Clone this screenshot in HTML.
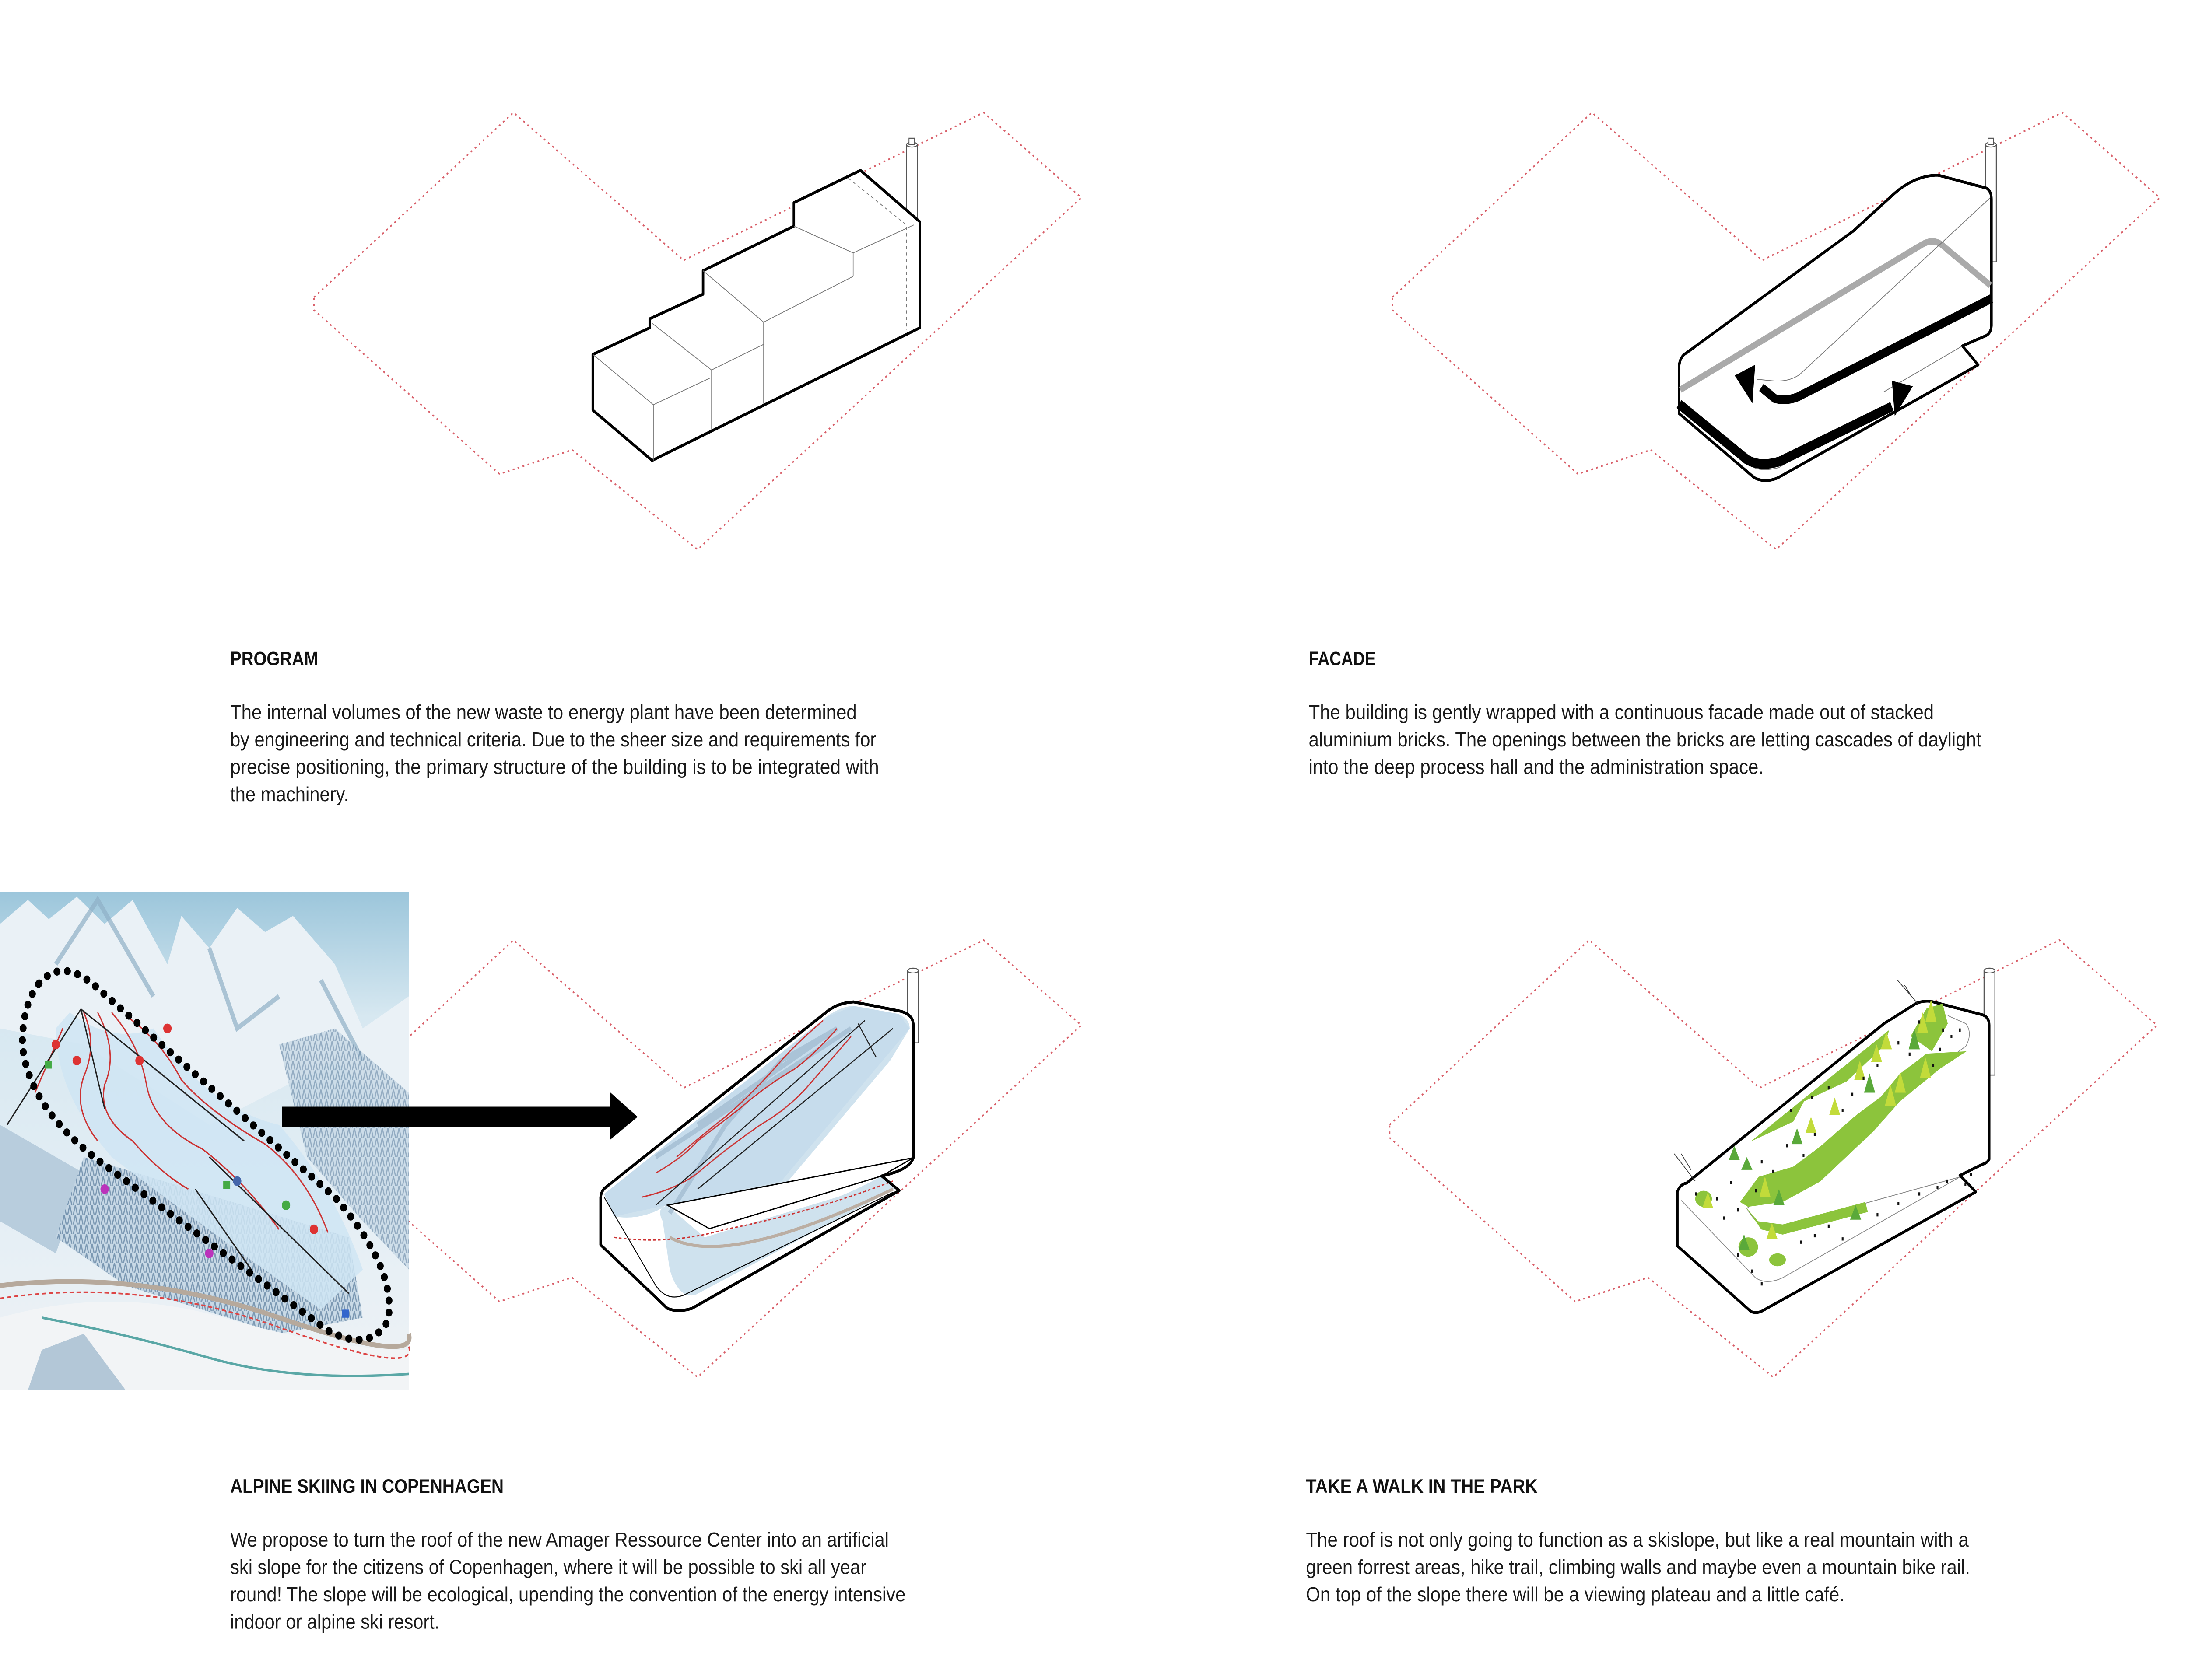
<!DOCTYPE html>
<html><head><meta charset="utf-8"><style>
html,body{margin:0;padding:0;background:#fff;overflow:hidden;width:100vw;height:100vh;}
svg{display:block;width:100vw;height:100vh;}
.t{font-family:"Liberation Sans Narrow","Liberation Sans",sans-serif;font-size:12.6px;fill:#1a1a1a;}
.h{font-family:"Liberation Sans Narrow","Liberation Sans",sans-serif;font-size:12px;font-weight:bold;fill:#111;}
.site{fill:none;stroke:#d9606a;stroke-width:1;stroke-dasharray:1.3 2.4;}
.bk{fill:#fff;stroke:#000;stroke-width:1.8;stroke-linejoin:round;}
.th{fill:none;stroke:#777;stroke-width:0.5;}
</style></head><body>
<svg viewBox="0 0 1568.2 1045.5" preserveAspectRatio="none" xmlns="http://www.w3.org/2000/svg">
<defs>
<linearGradient id="sky" x1="0" y1="0" x2="0" y2="1">
<stop offset="0" stop-color="#9cc6db"/><stop offset="0.25" stop-color="#d7e8f1"/><stop offset="0.7" stop-color="#e6eff5"/><stop offset="1" stop-color="#eef2f5"/>
</linearGradient>
<pattern id="forest" width="4" height="6" patternUnits="userSpaceOnUse">
<rect width="4" height="6" fill="#c4d6e4"/><path d="M2 0 L0.5 6 M2 0 L3.5 6" stroke="#6f8eab" stroke-width="0.8"/>
</pattern>
</defs>

<g class="site">
<polygon points="225,185 368,70 490,162 705,70 775,123 500,342 410,280 358,295 225,193"/>
<polygon points="998,185 1141,70 1263,162 1478,70 1548,123 1273,342 1183,280 1131,295 998,193"/>
<polygon points="225,700 368,585 490,677 705,585 775,638 500,857 410,795 358,810 225,708"/>
<polygon points="996,700 1139,585 1261,677 1476,585 1546,638 1271,857 1181,795 1129,810 996,708"/>
</g>

<g>
<rect x="649.7" y="90" width="7.8" height="48" fill="#fff" stroke="#555" stroke-width="0.7"/>
<ellipse cx="653.6" cy="90" rx="3.9" ry="1.5" fill="#fff" stroke="#555" stroke-width="0.6"/>
<rect x="651.5" y="86" width="4" height="4" fill="#fff" stroke="#555" stroke-width="0.6"/>
<polygon class="bk" points="424.9,220.6 465.7,204 465.7,198.4 503.9,183.1 503.9,168.5 569,140.7 569,126.1 616.7,106 659.3,138 659.3,204 467.4,286.6 424.9,255.3"/>
<g class="th" stroke="#888" stroke-width="0.55">
<polyline points="424.9,220.6 468.3,251.9 509.1,235.2"/>
<line x1="468.3" y1="251.9" x2="468.3" y2="286.6"/>
<polyline points="467.4,201.2 510,230.3 547.3,214.3"/>
<line x1="510" y1="230.3" x2="510" y2="267.8"/>
<polyline points="503.9,168.5 547.3,200.5 611.5,172"/>
<line x1="547.3" y1="200.5" x2="547.3" y2="251.2"/>
<polyline points="569,140.7 611.5,157.4 654.9,140"/>
<line x1="611.5" y1="157.4" x2="611.5" y2="172"/>
<polyline points="608,110.9 649.7,140 649.7,205.3" stroke-dasharray="2 2"/>
</g>
</g>

<g>
<rect x="1423" y="90" width="7.8" height="73" fill="#fff" stroke="#555" stroke-width="0.7"/>
<ellipse cx="1426.9" cy="90" rx="3.9" ry="1.5" fill="#fff" stroke="#555" stroke-width="0.6"/>
<rect x="1424.9" y="86" width="4" height="4" fill="#fff" stroke="#555" stroke-width="0.6"/>
<path class="bk" d="M1203.4,257.3 L1203.4,228 Q1204,222 1208.6,219.7 L1328.4,143.7 L1356.2,121.6 Q1372,109 1389.1,109 L1423.9,117.1 Q1427.3,119 1427.3,124 L1427.3,202.7 Q1427,208 1422.1,209.4 L1406.5,215.3 L1417.8,227.1 L1274.6,297.2 Q1265,301 1257.2,297.2 Z"/>
<path d="M1204.3,242.6 L1378,152 Q1386,148 1392.6,153 L1426.5,177.6" fill="none" stroke="#aaa" stroke-width="4"/>
<path d="M1426.5,123 L1290,233 Q1282,238 1270,237 L1259,236" fill="none" stroke="#777" stroke-width="0.5"/>
<path d="M1406.5,215.3 L1350,244 M1205,250 L1255,290 Q1262,294 1275,291 L1330,262" fill="none" stroke="#777" stroke-width="0.5"/>
<path d="M1427.3,185.8 L1288.5,247 Q1280,250 1272,248 L1262.4,241.1" fill="none" stroke="#000" stroke-width="5.5"/>
<polygon points="1243.3,233.7 1258,227 1256,251" fill="#000"/>
<path d="M1203.4,251.4 L1252,286 Q1262,291 1276,287 L1356,253" fill="none" stroke="#000" stroke-width="6"/>
<polygon points="1371,240.4 1356,237 1358,259" fill="#000"/>
</g>

<g>
<rect x="0" y="555" width="293" height="310" fill="url(#sky)"/>
<polygon points="0,575 20,560 35,572 55,558 75,575 95,560 120,600 130,570 150,590 170,565 190,580 210,570 240,600 260,640 293,620 293,700 240,660 150,700 60,650 0,640" fill="#eaf1f6"/>
<path d="M40,600 L70,560 L110,620 M150,590 L170,640 L200,620 M230,610 L260,660" stroke="#8fafc6" stroke-width="3" fill="none" opacity="0.7"/>
<polygon points="0,700 0,760 40,780 60,730" fill="#b8cddd"/>
<polygon points="60,720 250,770 260,820 200,830 90,800 40,770" fill="url(#forest)" opacity="0.9"/>
<polygon points="200,650 240,640 293,680 293,790 260,760 220,720" fill="url(#forest)" opacity="0.7"/>
<path d="M0,820 Q80,800 160,820 T293,840 L293,865 L0,865 Z" fill="#f2f4f6"/>
<path d="M0,800 Q100,790 200,820 T293,830" fill="none" stroke="#b6a99c" stroke-width="3"/>
<path d="M0,808 Q100,795 200,826 T293,838" fill="none" stroke="#d44" stroke-width="1" stroke-dasharray="3 2"/>
<path d="M30,820 Q90,830 150,845 T293,855" fill="none" stroke="#5aa7a6" stroke-width="1.5"/>
<polygon points="30,840 60,830 90,865 20,865" fill="#b3c7d7"/>
<path d="M50,630 Q80,650 110,640 Q150,690 200,700 Q240,740 260,790 L230,815 Q140,760 80,720 Q40,680 40,640Z" fill="#cfe5f3" opacity="0.85"/>
<g fill="none" stroke="#c33" stroke-width="0.9">
<path d="M60,630 q10,20 0,40 q-8,20 10,40"/><path d="M70,630 q15,25 5,45 q-5,20 20,35 q20,20 40,30"/>
<path d="M80,630 q20,20 25,45 q5,25 40,40 q30,20 55,50"/><path d="M90,632 q25,15 40,40 q20,20 60,40 q30,20 45,55"/>
<path d="M45,640 q-10,20 -20,40"/>
</g>
<g stroke="#222" stroke-width="0.9"><line x1="58" y1="628" x2="5" y2="700"/><line x1="58" y1="628" x2="75" y2="690"/><line x1="58" y1="628" x2="175" y2="710"/><line x1="150" y1="720" x2="250" y2="805"/><line x1="140" y1="740" x2="180" y2="790"/></g>
<g>
<circle cx="40" cy="650" r="3" fill="#d33"/><circle cx="55" cy="660" r="3" fill="#d33"/><circle cx="100" cy="660" r="3" fill="#d33"/><circle cx="120" cy="640" r="3" fill="#d33"/><circle cx="170" cy="735" r="3" fill="#46a"/><circle cx="205" cy="750" r="3" fill="#4a4"/><circle cx="225" cy="765" r="3" fill="#d33"/><circle cx="150" cy="780" r="3" fill="#b3b"/><circle cx="75" cy="740" r="3" fill="#b3b"/><rect x="32" y="660" width="5" height="5" fill="#4a4"/><rect x="160" y="735" width="5" height="5" fill="#4a4"/><rect x="245" y="815" width="5" height="5" fill="#36c"/>
</g>
<path d="M28,612 Q45,595 70,615 L240,745 Q285,790 278,822 Q265,842 235,828 L75,725 Q20,690 16,650 Q16,625 28,612 Z" fill="none" stroke="#000" stroke-width="5" stroke-dasharray="0 7.5" stroke-linecap="round"/>
</g>
<rect x="202" y="688.7" width="238" height="12.6" fill="#000"/>
<polygon points="437,679.5 457,695 437,709.5" fill="#000"/>

<g>
<rect x="650.5" y="604" width="7.8" height="45" fill="#fff" stroke="#555" stroke-width="0.7"/>
<ellipse cx="654.4" cy="604" rx="3.9" ry="1.5" fill="#fff" stroke="#555" stroke-width="0.6"/>
<path class="bk" d="M430.5,774.7 L430.5,745 Q431,741 434,739 L591.6,630.3 Q600,624 611.8,623.5 L644.5,629.1 Q654.6,631 654.6,638 L654.6,720.5 Q652,728 631.9,731.8 L644.5,740.9 L496,814.2 Q486,817 478.3,814.2 Z"/>
<path d="M433,743 L592,633 Q603,626 612,626 L644,631 Q652,634 652,640 L638,660 L560,740 L478,750 Q470,752 475,760 L480,790 Q486,808 498,806 L641,740 L632,732 Q610,742 600,745 L505,770 L478,750 Q460,760 440,757 Z" fill="#cfe2ee"/>
<polygon points="433,743 592,633 612,626 644,631 652,640 560,735 478,750 440,757" fill="#c6dcec"/>
<path d="M480,755 L520,700 L560,660 L600,640 M470,720 L540,680 L610,640 M500,700 L600,640" stroke="#98b3c9" stroke-width="3" fill="none" opacity="0.6"/>
<g fill="none" stroke="#c33" stroke-width="0.8">
<path d="M470,730 q20,-10 30,-20 q15,-10 30,-20 q20,-15 40,-25 q15,-10 30,-25"/>
<path d="M460,745 q25,-5 40,-15 q20,-15 45,-30 q20,-10 35,-25 q15,-15 30,-30"/>
<path d="M485,720 q20,-15 35,-25 q20,-15 40,-35 q10,-10 30,-25"/>
<path d="M440,770 q40,5 80,-5 q60,-10 120,-30" stroke-dasharray="2 1.5"/>
</g>
<g stroke="#222" stroke-width="0.7"><line x1="470" y1="750" x2="620" y2="635"/><line x1="500" y1="740" x2="640" y2="640"/><line x1="615" y1="637" x2="628" y2="658"/></g>
<polygon points="478.3,750 508.5,764.6 631.9,731.8 654.6,720.5" fill="#fff" stroke="#000" stroke-width="0.8"/>
<path d="M480,770 Q520,790 640,740" fill="none" stroke="#bbaea3" stroke-width="2"/>
<path d="M430.5,774.7 L430.5,745 Q431,741 434,739 L591.6,630.3 Q600,624 611.8,623.5 L644.5,629.1 Q654.6,631 654.6,638 L654.6,720.5 Q652,728 631.9,731.8 L644.5,740.9 L496,814.2 Q486,817 478.3,814.2 Z" fill="none" stroke="#000" stroke-width="1.8" stroke-linejoin="round"/>
<path d="M433,745 L470,800 Q478,810 490,806 L640,742" fill="none" stroke="#000" stroke-width="0.6"/>
</g>

<g>
<rect x="1422" y="604" width="7.8" height="65" fill="#fff" stroke="#555" stroke-width="0.7"/>
<ellipse cx="1425.9" cy="604" rx="3.9" ry="1.5" fill="#fff" stroke="#555" stroke-width="0.6"/>
<path class="bk" d="M1202.2,775.3 L1202.2,741.7 Q1204,737 1208.9,736.2 L1350.3,637 L1373.2,624.5 Q1380,622 1386.5,623.7 L1420.9,631.5 Q1425.7,633 1425.7,638 L1425.7,721.4 Q1424,724 1420.9,724.5 L1404.7,731.5 L1416.1,741.7 L1264.3,815.2 Q1259,818 1254.7,816 Z"/>
<path d="M1205,747 L1258,795 Q1266,800 1278,795 L1404.7,732.4 M1404.7,732.4 L1274,764 Q1262,767 1252,752 L1409,651 Q1414,643 1409,637 L1396,632" fill="none" stroke="#888" stroke-width="0.5"/>
<g fill="#8cc43c">
<polygon points="1254.7,710.4 1354.1,640.9 1350.3,651 1323.5,673 1293,685.4 1285.3,698"/>
<polygon points="1247.1,748 1260.5,732.3 1285.3,726 1304.4,713.6 1329.2,694.8 1348.3,682.3 1361.7,668.2 1380.8,655.7 1409.5,654.2 1390.4,665.1 1361.7,685.4 1342.6,704.2 1304.4,735.4 1277.7,748 1252.8,751"/>
<polygon points="1369.4,644.8 1380.8,627.6 1392.3,624.5 1396,637 1384.6,654.2"/>
<polygon points="1251,751 1262.4,765.1 1277.7,768.3 1338.8,754.2 1336.9,748 1277.7,762 1260,760"/>
<ellipse cx="1221" cy="746" rx="6" ry="5"/><ellipse cx="1253" cy="776" rx="7" ry="6"/><ellipse cx="1274" cy="784" rx="6" ry="4"/>
</g>
<g fill="#c2db3a">
<polygon points="1224,742 1220,752 1228,752"/><polygon points="1298,695 1294,705 1302,705"/><polygon points="1315,683 1311,694 1319,694"/><polygon points="1333,660 1329,672 1337,672"/><polygon points="1345,650 1341,661 1349,661"/><polygon points="1352,642 1348,653 1356,653"/><polygon points="1378,630 1374,643 1382,643"/><polygon points="1384,622 1380,636 1388,636"/><polygon points="1355,675 1351,688 1359,688"/><polygon points="1362,667 1358,680 1366,680"/><polygon points="1380,658 1376,671 1384,671"/><polygon points="1265,732 1261,745 1269,745"/><polygon points="1270,761 1266,771 1274,771"/>
</g>
<g fill="#5aa93a">
<polygon points="1243,713 1239,722 1247,722"/><polygon points="1252,720 1248,728 1256,728"/><polygon points="1288,702 1284,712 1292,712"/><polygon points="1340,668 1336,680 1344,680"/><polygon points="1372,640 1368,653 1376,653"/><polygon points="1275,740 1271,750 1279,750"/><polygon points="1330,750 1326,759 1334,759"/><polygon points="1250,768 1246,778 1254,778"/>
</g>
<g fill="#111">
<rect x="1215" y="742" width="1.3" height="2"/><rect x="1230" y="745" width="1.3" height="2"/><rect x="1235" y="757" width="1.3" height="2"/><rect x="1245" y="752" width="1.3" height="2"/><rect x="1240" y="735" width="1.3" height="2"/><rect x="1258" y="740" width="1.3" height="2"/><rect x="1262" y="722" width="1.3" height="2"/><rect x="1270" y="728" width="1.3" height="2"/><rect x="1280" y="712" width="1.3" height="2"/><rect x="1292" y="718" width="1.3" height="2"/><rect x="1300" y="705" width="1.3" height="2"/><rect x="1283" y="690" width="1.3" height="2"/><rect x="1298" y="682" width="1.3" height="2"/><rect x="1310" y="676" width="1.3" height="2"/><rect x="1320" y="690" width="1.3" height="2"/><rect x="1327" y="680" width="1.3" height="2"/><rect x="1335" y="670" width="1.3" height="2"/><rect x="1345" y="662" width="1.3" height="2"/><rect x="1360" y="648" width="1.3" height="2"/><rect x="1368" y="655" width="1.3" height="2"/><rect x="1392" y="640" width="1.3" height="2"/><rect x="1398" y="644" width="1.3" height="2"/><rect x="1404" y="640" width="1.3" height="2"/><rect x="1390" y="652" width="1.3" height="2"/><rect x="1375" y="635" width="1.3" height="2"/><rect x="1385" y="662" width="1.3" height="2"/><rect x="1290" y="772" width="1.3" height="2"/><rect x="1300" y="768" width="1.3" height="2"/><rect x="1310" y="762" width="1.3" height="2"/><rect x="1320" y="770" width="1.3" height="2"/><rect x="1345" y="755" width="1.3" height="2"/><rect x="1360" y="748" width="1.3" height="2"/><rect x="1375" y="742" width="1.3" height="2"/><rect x="1388" y="738" width="1.3" height="2"/><rect x="1395" y="734" width="1.3" height="2"/><rect x="1255" y="790" width="1.3" height="2"/><rect x="1262" y="798" width="1.3" height="2"/><rect x="1245" y="780" width="1.3" height="2"/><rect x="1408" y="736" width="1.3" height="2"/><rect x="1412" y="730" width="1.3" height="2"/>
</g>
<path d="M1200,718 L1215,735 M1205,718 L1212,728 M1360,610 L1375,625 M1365,613 L1370,620" stroke="#333" stroke-width="0.5"/>
</g>

<text class="h" x="165" y="414" textLength="63" lengthAdjust="spacingAndGlyphs">PROGRAM</text>
<text class="t" x="165" y="447.5" textLength="449" lengthAdjust="spacingAndGlyphs">The internal volumes of the new waste to energy plant have been determined</text>
<text class="t" x="165" y="464.5" textLength="463" lengthAdjust="spacingAndGlyphs">by engineering and technical criteria. Due to the sheer size and requirements for</text>
<text class="t" x="165" y="481.5" textLength="465" lengthAdjust="spacingAndGlyphs">precise positioning, the primary structure of the building is to be integrated with</text>
<text class="t" x="165" y="498.5" textLength="85" lengthAdjust="spacingAndGlyphs">the machinery.</text>

<text class="h" x="938" y="414" textLength="48" lengthAdjust="spacingAndGlyphs">FACADE</text>
<text class="t" x="938" y="447.5" textLength="448" lengthAdjust="spacingAndGlyphs">The building is gently wrapped with a continuous facade made out of stacked</text>
<text class="t" x="938" y="464.5" textLength="482" lengthAdjust="spacingAndGlyphs">aluminium bricks. The openings between the bricks are letting cascades of daylight</text>
<text class="t" x="938" y="481.5" textLength="326" lengthAdjust="spacingAndGlyphs">into the deep process hall and the administration space.</text>

<text class="h" x="165" y="929" textLength="196" lengthAdjust="spacingAndGlyphs">ALPINE SKIING IN COPENHAGEN</text>
<text class="t" x="165" y="962.5" textLength="472" lengthAdjust="spacingAndGlyphs">We propose to turn the roof of the new Amager Ressource Center into an artificial</text>
<text class="t" x="165" y="979.5" textLength="456" lengthAdjust="spacingAndGlyphs">ski slope for the citizens of Copenhagen, where it will be possible to ski all year</text>
<text class="t" x="165" y="996.5" textLength="484" lengthAdjust="spacingAndGlyphs">round! The slope will be ecological, upending the convention of the energy intensive</text>
<text class="t" x="165" y="1013.5" textLength="150" lengthAdjust="spacingAndGlyphs">indoor or alpine ski resort.</text>

<text class="h" x="936" y="929" textLength="166" lengthAdjust="spacingAndGlyphs">TAKE A WALK IN THE PARK</text>
<text class="t" x="936" y="962.5" textLength="475" lengthAdjust="spacingAndGlyphs">The roof is not only going to function as a skislope, but like a real mountain with a</text>
<text class="t" x="936" y="979.5" textLength="476" lengthAdjust="spacingAndGlyphs">green forrest areas, hike trail, climbing walls and maybe even a mountain bike rail.</text>
<text class="t" x="936" y="996.5" textLength="386" lengthAdjust="spacingAndGlyphs">On top of the slope there will be a viewing plateau and a little café.</text>
</svg>
</body></html>
